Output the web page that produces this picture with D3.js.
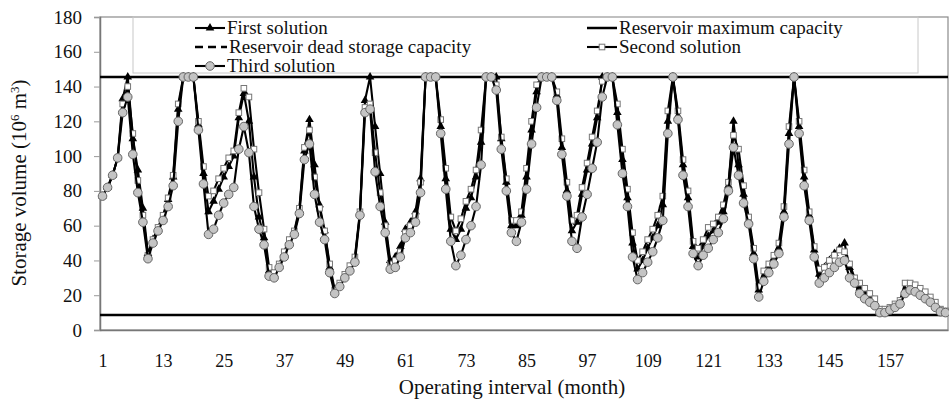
<!DOCTYPE html>
<html lang="en">
  <head>
    <meta charset="utf-8">
    <title>Storage volume</title>
    <style>
      body { margin: 0; background: #fff; }
      svg text { font-family: "Liberation Serif", "Times New Roman", serif; fill: #111; }
    </style>
  </head>
  <body>
    <svg></svg>
    <script src="https://d3js.org/d3.v7.min.js"></script>
    <script type="text/javascript">
      // month by month storage (10^6 m3)
      var firstSolution = [
        77, 82, 89, 99, 133, 145.5, 110, 92, 70, 44,
        52, 58, 65, 75, 88, 127, 145.5, 145.5, 145.5, 118,
        90, 68, 74, 81, 88, 94, 100, 122, 136, 120,
        88, 65, 53, 34, 32, 37, 44, 51, 56, 69,
        103, 121, 95, 72, 57, 36, 22, 26, 31, 36,
        41, 67, 132, 145.5, 117, 90, 62, 40, 42, 48,
        58, 62, 68, 87, 145.5, 145.5, 145.5, 117, 87, 58,
        52, 58, 70, 76, 88, 108, 145.5, 145.5, 145.5, 110,
        85, 60, 60, 66, 88, 115, 137, 145.5, 145.5, 145.5,
        135, 105, 80, 57, 62, 78, 92, 107, 122, 145.5,
        145.5, 145.5, 125, 98, 76, 50, 35, 40, 47, 53,
        60, 72, 120, 145.5, 123, 95, 76, 48, 42, 48,
        54, 57, 62, 68, 83, 120, 95, 78, 63, 44,
        23, 30, 35, 40, 47, 68, 113, 145.5, 117, 88,
        66, 46, 32, 36, 40, 44, 47, 50, 36, 28,
        24, 22, 19, 16, 11, 11, 12, 14, 16, 23,
        25, 24, 22, 20, 17, 14.5, 11, 10
      ];
      var secondSolution = [
        77, 82, 89, 99, 130, 140, 113, 86, 66, 43,
        52, 59, 66, 76, 89, 130, 145.5, 145.5, 145.5, 120,
        94, 77, 80, 87, 93, 99, 103, 125, 139, 134,
        104, 79, 58, 36, 33, 38, 45, 52, 57, 70,
        105, 115, 88, 70, 57, 38, 23, 27, 32, 37,
        42, 68, 128, 130, 102, 79, 60, 38, 40, 45,
        56, 60, 66, 85, 145.5, 145.5, 145.5, 121, 93, 65,
        57, 64, 74, 81, 92, 115, 145.5, 145.5, 141, 111,
        87, 63, 63, 68, 93, 120, 141, 145.5, 145.5, 145.5,
        137, 110, 85, 63, 66, 82, 96, 111, 126, 143,
        145.5, 145.5, 130, 104, 81, 56, 40, 45, 52, 58,
        66, 77, 126, 145.5, 126, 98, 80, 51, 47, 52,
        59, 61, 65, 72, 85, 112, 104, 83, 65, 47,
        25, 34, 38, 43, 50, 71, 117, 145.5, 120, 92,
        68, 48, 35, 36, 40, 43, 46, 45, 38, 30,
        27, 24, 21, 18, 12, 12, 13, 15, 17, 27,
        27, 26, 24, 22, 19, 16, 12, 11
      ];
      var thirdSolution = [
        77, 82, 89, 99, 125, 134, 101, 79, 62, 41,
        50, 57, 63, 71, 83, 120, 145.5, 145.5, 145.5, 115,
        84, 55, 58, 66, 73, 78, 82, 104, 117, 102,
        71, 58, 49, 31, 30, 36, 42, 49, 55, 67,
        98, 107, 78, 62, 52, 33, 21, 25, 30, 34,
        39, 66, 125, 127, 91, 71, 56, 35, 36, 42,
        53, 56, 62, 79, 145.5, 145.5, 145.5, 113, 81, 51,
        37, 43, 52, 60, 71, 95, 145.5, 145.5, 138, 104,
        80, 56, 51, 62, 81, 107, 128, 145.5, 145.5, 145.5,
        132, 101, 77, 51, 47, 65, 78, 93, 108, 134,
        145.5, 145.5, 118, 90, 71, 42, 29, 33, 39, 45,
        53, 63, 113, 145.5, 121, 89, 71, 44, 37, 43,
        47, 52, 56, 64, 80, 105, 89, 73, 61, 41,
        19, 28, 33, 38, 44, 65, 107, 145.5, 113, 83,
        63, 42, 27, 30, 33, 36, 39, 40, 30, 27,
        21, 18, 16, 14, 10, 10, 11.5, 13, 15, 21,
        23, 22, 20, 18, 16, 13, 10.5, 10
      ];
      var maxCapacity = 145.5;
      var deadCapacity = 8.6;
      var yTicks = [0, 20, 40, 60, 80, 100, 120, 140, 160, 180];
      var xTicks = [1, 13, 25, 37, 49, 61, 73, 85, 97, 109, 121, 133, 145, 157];

      var width = 949, height = 403;
      var plotLeft = 100, plotRight = 948, plotTop = 17, plotBottom = 330;

      var svg = d3.select("svg")
                  .attr("width", width)
                  .attr("height", height);

      var months = d3.range(1, firstSolution.length + 1);
      var x = d3.scaleLinear().domain([0.5, months.length + 0.5]).range([plotLeft, plotRight]);
      var y = d3.scaleLinear().domain([0, 180]).range([plotBottom, plotTop]);

      // plot frame
      svg.append("rect")
         .attr("x", plotLeft).attr("y", plotTop)
         .attr("width", plotRight - plotLeft).attr("height", plotBottom - plotTop)
         .style("fill", "none").style("stroke", "#8a8a8a").style("stroke-width", 1.2);

      // y axis
      var yAxis = svg.append("g")
                     .attr("transform", "translate(" + plotLeft + ",0)")
                     .call(d3.axisLeft(y).tickValues(yTicks).tickSize(6).tickPadding(12));
      yAxis.select(".domain").style("stroke", "#777").style("stroke-width", 1.5);
      yAxis.selectAll(".tick line").style("stroke", "#999");
      yAxis.selectAll("text").style("font-size", "19px")
           .style("font-family", "'Liberation Serif', serif").style("fill", "#111");

      // x axis, labels only
      var xAxis = svg.append("g")
                     .attr("transform", "translate(0," + plotBottom + ")")
                     .call(d3.axisBottom(x).tickValues(xTicks).tickFormat(d3.format("d")).tickSize(0).tickPadding(24));
      xAxis.select(".domain").style("stroke", "#777").style("stroke-width", 1.5);
      xAxis.selectAll("text").style("font-size", "18px")
           .style("font-family", "'Liberation Serif', serif").style("fill", "#111");

      svg.append("text")
         .attr("x", 512).attr("y", 394)
         .attr("text-anchor", "middle")
         .style("font-size", "21px")
         .text("Operating interval (month)");

      var yTitle = svg.append("text")
         .attr("transform", "translate(26,183) rotate(-90)")
         .attr("text-anchor", "middle")
         .style("font-size", "21px");
      yTitle.append("tspan").text("Storage volume (10");
      yTitle.append("tspan").attr("dy", -7).style("font-size", "13px").text("6");
      yTitle.append("tspan").attr("dy", 7).text(" m");
      yTitle.append("tspan").attr("dy", -7).style("font-size", "13px").text("3");
      yTitle.append("tspan").attr("dy", 7).text(")");

      // legend box
      svg.append("rect")
         .attr("x", 133).attr("y", plotTop)
         .attr("width", 918 - 133).attr("height", 56)
         .style("fill", "none").style("stroke", "#c8c8c8").style("stroke-width", 1);

      var line = d3.line()
                   .x(function(d, i){ return x(i + 1); })
                   .y(function(d){ return y(d); });

      var triangle = d3.symbol().type(d3.symbolTriangle).size(32);

      function drawTriangles(g, data) {
        g.selectAll("path.tri")
         .data(data).enter()
         .append("path").attr("class", "tri")
         .attr("d", triangle)
         .attr("transform", function(d, i){ return "translate(" + x(i + 1) + "," + y(d) + ")"; })
         .style("fill", "#000");
      }
      function drawSquares(g, data) {
        g.selectAll("rect")
         .data(data).enter()
         .append("rect")
         .attr("x", function(d, i){ return x(i + 1) - 2.8; })
         .attr("y", function(d){ return y(d) - 2.8; })
         .attr("width", 5.6).attr("height", 5.6)
         .style("fill", "#fff").style("stroke", "#777").style("stroke-width", 1);
      }
      function drawCircles(g, data) {
        g.selectAll("circle")
         .data(data).enter()
         .append("circle")
         .attr("cx", function(d, i){ return x(i + 1); })
         .attr("cy", function(d){ return y(d); })
         .attr("r", 4.3)
         .style("fill", "#c4c4c4").style("stroke", "#666").style("stroke-width", 1);
      }

      // first solution
      var g1 = svg.append("g");
      g1.append("path").datum(firstSolution).attr("d", line)
        .style("fill", "none").style("stroke", "#000").style("stroke-width", 2.1);
      drawTriangles(g1, firstSolution);

      // capacity lines
      svg.append("line")
         .attr("x1", plotLeft).attr("x2", plotRight)
         .attr("y1", y(maxCapacity)).attr("y2", y(maxCapacity))
         .style("stroke", "#000").style("stroke-width", 2.5);
      svg.append("line")
         .attr("x1", plotLeft).attr("x2", plotRight)
         .attr("y1", y(deadCapacity)).attr("y2", y(deadCapacity))
         .style("stroke", "#000").style("stroke-width", 2.5);

      // second solution
      var g2 = svg.append("g");
      g2.append("path").datum(secondSolution).attr("d", line)
        .style("fill", "none").style("stroke", "#000").style("stroke-width", 2.1);
      drawSquares(g2, secondSolution);

      // third solution
      var g3 = svg.append("g");
      g3.append("path").datum(thirdSolution).attr("d", line)
        .style("fill", "none").style("stroke", "#000").style("stroke-width", 2.1);
      drawCircles(g3, thirdSolution);

      // legend entries
      var legend = [
        {name: "First solution", kind: "tri", lx: 195, ly: 28},
        {name: "Reservoir dead storage capacity", kind: "dash", lx: 195, ly: 47},
        {name: "Third solution", kind: "circle", lx: 195, ly: 66},
        {name: "Reservoir maximum capacity", kind: "solid", lx: 587, ly: 28},
        {name: "Second solution", kind: "square", lx: 587, ly: 47}
      ];
      legend.forEach(function(e){
        var g = svg.append("g");
        var w = e.kind === "dash" ? 32 : 30;
        g.append("line")
         .attr("x1", e.lx).attr("x2", e.lx + w)
         .attr("y1", e.ly).attr("y2", e.ly)
         .style("stroke", "#000")
         .style("stroke-width", e.kind === "dash" || e.kind === "solid" ? 2.5 : 2.1)
         .style("stroke-dasharray", e.kind === "dash" ? "8,5" : null);
        var cx = e.lx + w / 2;
        if (e.kind === "tri") {
          g.append("path").attr("d", triangle)
           .attr("transform", "translate(" + cx + "," + e.ly + ")").style("fill", "#000");
        } else if (e.kind === "circle") {
          g.append("circle").attr("cx", cx).attr("cy", e.ly).attr("r", 4.3)
           .style("fill", "#c4c4c4").style("stroke", "#666");
        } else if (e.kind === "square") {
          g.append("rect").attr("x", cx - 2.8).attr("y", e.ly - 2.8)
           .attr("width", 5.6).attr("height", 5.6)
           .style("fill", "#fff").style("stroke", "#777");
        }
        g.append("text")
         .attr("x", e.lx + w + 2).attr("y", e.ly + 6)
         .style("font-size", "19px")
         .text(e.name);
      });
    </script>
  </body>
</html>
